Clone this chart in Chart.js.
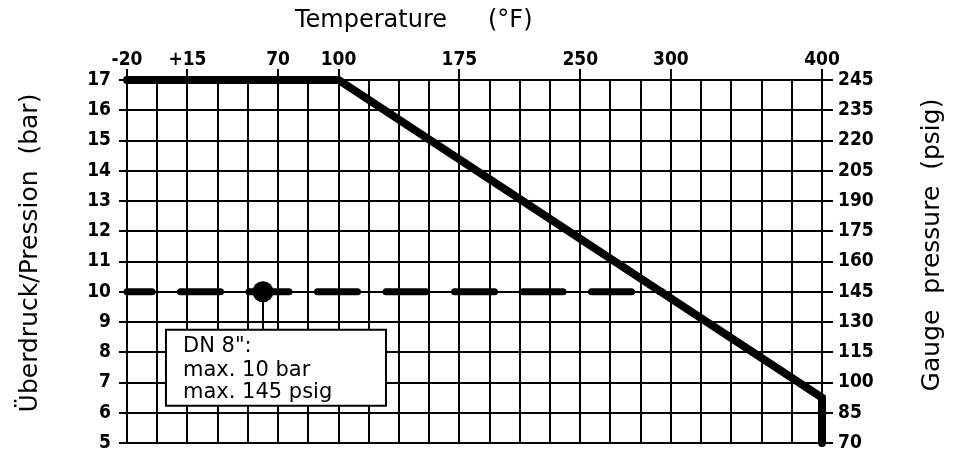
<!DOCTYPE html>
<html><head><meta charset="utf-8">
<script src="https://cdn.jsdelivr.net/npm/chart.js@4.4.0/dist/chart.umd.min.js"></script>
<style>html,body{margin:0;padding:0;background:#fff;}#wrap{width:959px;height:456px;}</style>
</head><body><div id="wrap"><canvas id="c" width="959" height="456"></canvas></div>
<script>
// Temperature scale runs linearly in °C (grid every 10 °C); tick labels are given in °F
const tempTickPos = [-30, -10, 20, 40, 80, 120, 150, 200];
const tempTickLabels = ['-20', '+15', '70', '100', '175', '250', '300', '400'];
const barTicks = [5, 6, 7, 8, 9, 10, 11, 12, 13, 14, 15, 16, 17];
const psigLabels = ['70', '85', '100', '115', '130', '145', '160', '175', '190', '205', '220', '235', '245'];
// pressure/temperature limit curve
const limitTemp = [-30, 40, 200, 200];
const limitBar = [17, 17, 6.5, 5];
// DN 8" limit
const dnTemp = [-30, 147];
const dnBar = [10, 10];
const markerTemp = [15];
const markerBar = [10];
const noteLines = ['DN 8":', 'max. 10 bar', 'max. 145 psig'];

const FONT = "'DejaVu Sans', sans-serif";
const TICKFONT = "'DejaVu Sans Condensed', 'DejaVu Sans', sans-serif";

const decor = {
  id: 'decor',
  afterDatasetsDraw(chart) {
    const ctx = chart.ctx;
    const xs = chart.scales.x, ys = chart.scales.y;
    const mx = xs.getPixelForValue(markerTemp[0]);
    const my = ys.getPixelForValue(markerBar[0]);
    const box = {dx: -97, dy: 38, w: 220, h: 76};
    const bl = mx + box.dx, bt = my + box.dy;
    ctx.save();
    ctx.strokeStyle = '#000';
    ctx.lineWidth = 2;
    ctx.beginPath(); ctx.moveTo(mx, my); ctx.lineTo(mx, bt); ctx.stroke();
    ctx.fillStyle = '#fff';
    ctx.fillRect(bl, bt, box.w, box.h);
    ctx.strokeRect(bl, bt, box.w, box.h);
    ctx.fillStyle = '#000';
    ctx.font = '21px ' + FONT;
    ctx.textBaseline = 'alphabetic';
    ctx.textAlign = 'left';
    const base = [22, 46, 68];
    noteLines.forEach((t, i) => ctx.fillText(t, bl + 17, bt + base[i]));
    ctx.restore();
  },
  afterDraw(chart) {
    const ctx = chart.ctx;
    ctx.save();
    ctx.fillStyle = '#000';
    ctx.font = '24px ' + FONT;
    ctx.textBaseline = 'alphabetic';
    ctx.textAlign = 'left';
    ctx.fillText('Temperature', 295, 27);
    ctx.fillText('(°F)', 488, 27);
    ctx.font = '25px ' + FONT;
    ctx.textAlign = 'center';
    ctx.textBaseline = 'middle';
    ctx.save();
    ctx.translate(30, 253); ctx.rotate(-Math.PI / 2);
    ctx.fillText('Überdruck/Pression  (bar)', 0, 0);
    ctx.restore();
    ctx.save();
    ctx.translate(932, 245); ctx.rotate(-Math.PI / 2);
    ctx.fillText('Gauge  pressure  (psig)', 0, 0);
    ctx.restore();
    ctx.restore();
  }
};

const tickFont = {family: TICKFONT, weight: 'bold', size: 19};

new Chart(document.getElementById('c'), {
  type: 'line',
  data: {
    datasets: [
      {
        data: limitTemp.map((t, i) => ({x: t, y: limitBar[i]})),
        borderColor: '#000', borderWidth: 8, pointRadius: 0,
        borderCapStyle: 'round', borderJoinStyle: 'miter', tension: 0,
        clip: false, xAxisID: 'x', yAxisID: 'y'
      },
      {
        data: markerTemp.map((t, i) => ({x: t, y: markerBar[i]})),
        showLine: false, pointRadius: 10.5, pointBackgroundColor: '#000',
        pointBorderColor: '#000', pointBorderWidth: 0,
        xAxisID: 'x', yAxisID: 'y'
      },
      {
        data: dnTemp.map((t, i) => ({x: t, y: dnBar[i]})),
        borderColor: '#000', borderWidth: 7, pointRadius: 0,
        borderCapStyle: 'round', borderDash: [40, 28.5], borderDashOffset: 15,
        clip: false, xAxisID: 'x', yAxisID: 'y'
      }
    ]
  },
  options: {
    responsive: false, animation: false, devicePixelRatio: 1,
    layout: {padding: 0},
    plugins: {legend: {display: false}, tooltip: {enabled: false}},
    scales: {
      x: {
        type: 'linear', position: 'bottom', min: -30, max: 200,
        ticks: {display: false, stepSize: 10},
        grid: {color: '#000', lineWidth: 2, drawTicks: false},
        border: {display: true, color: '#000', width: 2},
        afterFit(s) { s.height = 13; }
      },
      xTop: {
        type: 'linear', position: 'top', min: -30, max: 200,
        afterBuildTicks(s) { s.ticks = tempTickPos.map(v => ({value: v})); },
        ticks: {autoSkip: false, maxRotation: 0, padding: -2, color: '#000', font: tickFont,
          callback: (v) => tempTickLabels[tempTickPos.indexOf(v)]},
        grid: {drawOnChartArea: false, color: '#000', lineWidth: 2, tickLength: 11},
        border: {display: false},
        afterFit(s) { s.height = 80; }
      },
      y: {
        type: 'linear', position: 'left', min: 5, max: 17,
        ticks: {stepSize: 1, padding: 8, color: '#000', font: tickFont},
        grid: {color: '#000', lineWidth: 2, tickLength: 8},
        border: {display: true, color: '#000', width: 2},
        afterFit(s) { s.width = 127; s.paddingTop = 0; s.paddingBottom = 0; }
      },
      yR: {
        type: 'linear', position: 'right', min: 5, max: 17,
        ticks: {stepSize: 1, padding: 5, color: '#000', font: tickFont,
          callback: (v) => psigLabels[barTicks.indexOf(v)]},
        grid: {drawOnChartArea: false, color: '#000', lineWidth: 2, tickLength: 11},
        border: {display: true, color: '#000', width: 2},
        afterFit(s) { s.width = 137; s.paddingTop = 0; s.paddingBottom = 0; }
      }
    }
  },
  plugins: [decor]
});
</script>
</body></html>
